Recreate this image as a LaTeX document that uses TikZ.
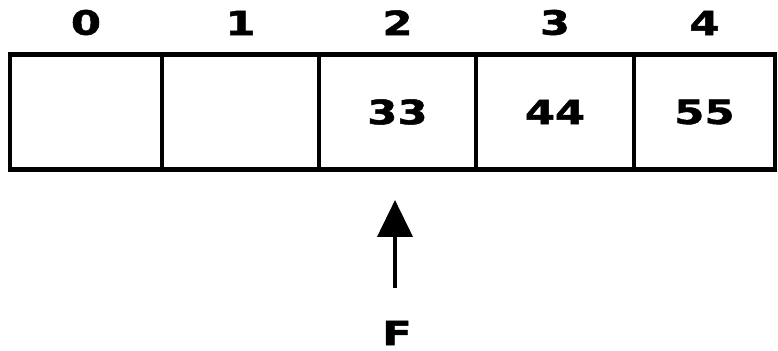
\documentclass[tikz,border=0pt]{standalone}
\usepackage{fontspec}
\newfontfamily\arrfont{DejaVu Sans}[FakeStretch=1.3,BoldFeatures={FakeBold=1.5}]
\usetikzlibrary{arrows.meta,positioning}

\begin{document}
\begin{tikzpicture}[x=0.02cm,y=-0.02cm,line width=2.7pt,
    cellbox/.style={draw, rectangle, minimum height=2.3cm, outer sep=0pt, inner sep=0pt,
      font=\arrfont\bfseries\fontsize{19}{20}\selectfont},
    idxlabel/.style={inner sep=0pt, font=\arrfont\bfseries\fontsize{19}{20}\selectfont},
    ptr/.style={line width=2.4pt, -{Triangle[width=0.7cm,length=0.74cm]}}]
  \useasboundingbox (0,0) rectangle (778,351);
  % the five cells of the array, left/right edge in pixels
  \foreach \i/\l/\r/\v in {0/10/162/,1/162/319/,2/319/476/33,3/476/634/44,4/634/775/55}{
    \node[cellbox, minimum width={(\r-\l)*0.02cm}] (c\i) at ({(\l+\r)/2},112) {\v};
    \node[idxlabel, above=0.34cm of c\i] (n\i) {\i};
  }
  % front pointer
  \node[idxlabel] (front) at (397,333) {F};
  \coordinate (tail) at (395,288);
  \coordinate (head) at (395,200);
  \draw[ptr] (tail) -- (head);
\end{tikzpicture}
\end{document}
